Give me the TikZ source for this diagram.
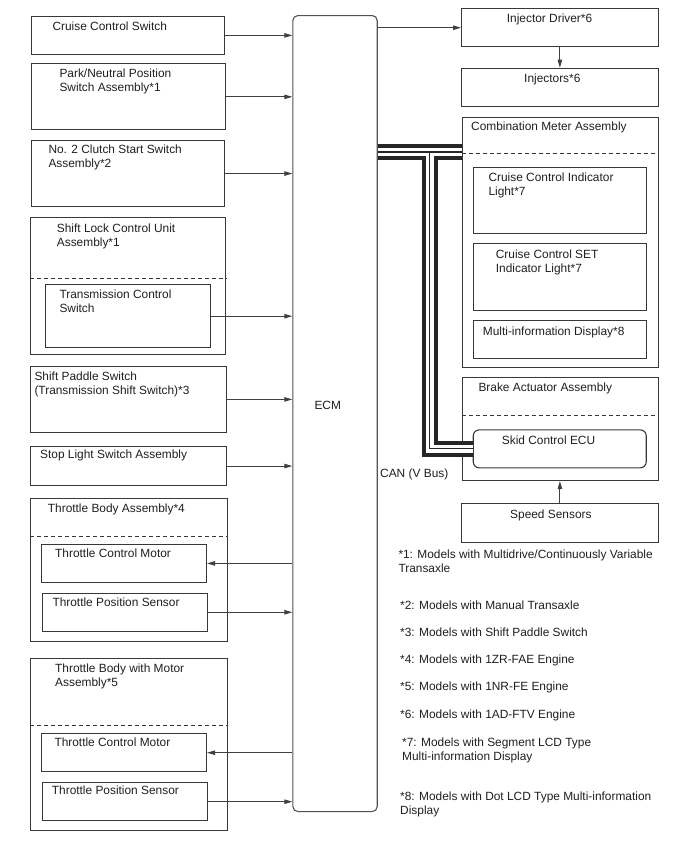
\documentclass[tikz,border=0pt]{standalone}
\usepackage{fontspec}
\setmainfont{Liberation Sans}
\usepackage{xcolor}
\usepackage{tikz}
\usetikzlibrary{positioning,arrows.meta}

\begin{document}
\begin{tikzpicture}[
    x=1pt, y=-1pt,
    box/.style={rectangle, draw=black!78, line width=1.1pt, anchor=north west, inner sep=0pt},
    txt/.style={anchor=north west, inner sep=0pt, align=left, text=black!88, font=\fontsize{11.9pt}{14pt}\selectfont},
    divider/.style={draw=black!78, line width=1pt, dash pattern=on 4pt off 3pt},
    arrow/.style={-{Triangle[length=8pt,width=4.5pt]}, line width=0.9pt, black!75},
]
\useasboundingbox (0,0) rectangle (688,852);

% Left: switches and sensors
\node[box, minimum width=193pt, minimum height=38.3pt] (ccs) at (31,15.7) {};
\node[txt] (ccs-t) at ([shift={(21.3,6)}]ccs.north west) {Cruise Control Switch};

\node[box, minimum width=193.7pt, minimum height=66pt] (pns) at (31.3,63.3) {};
\node[txt] (pns-t) at ([shift={(28,5)}]pns.north west) {Park/Neutral Position\\Switch Assembly*1};

\node[box, minimum width=193pt, minimum height=66pt] (clutch) at (31,140) {};
\node[txt] (clutch-t) at ([shift={(17.3,4.3)}]clutch.north west) {No. 2 Clutch Start Switch\\Assembly*2};

\node[box, minimum width=195.3pt, minimum height=136.7pt] (shiftlock) at (30,217.3) {};
\node[txt] (shiftlock-t) at ([shift={(26.7,6)}]shiftlock.north west) {Shift Lock Control Unit\\Assembly*1};
\node[box, minimum width=165pt, minimum height=63.3pt] (tcs) at (45,284) {};
\node[txt] (tcs-t) at ([shift={(14.3,6)}]tcs.north west) {Transmission Control\\Switch};

\node[box, minimum width=196pt, minimum height=65.7pt] (paddle) at (30,366) {};
\node[txt] (paddle-t) at ([shift={(4.3,5.7)}]paddle.north west) {Shift Paddle Switch\\(Transmission Shift Switch)*3};

\node[box, minimum width=196pt, minimum height=39pt] (stoplight) at (30,446) {};
\node[txt] (stoplight-t) at ([shift={(10,4)}]stoplight.north west) {Stop Light Switch Assembly};

\node[box, minimum width=196.7pt, minimum height=142.4pt] (tba) at (30,498.3) {};
\node[txt] (tba-t) at ([shift={(17.7,5.7)}]tba.north west) {Throttle Body Assembly*4};
\node[box, minimum width=165pt, minimum height=37.7pt] (tcmA) at (41,544) {};
\node[txt] (tcmA-t) at ([shift={(14,4.3)}]tcmA.north west) {Throttle Control Motor};
\node[box, minimum width=164.4pt, minimum height=38pt] (tpsA) at (42.3,592.7) {};
\node[txt] (tpsA-t) at ([shift={(10,4.7)}]tpsA.north west) {Throttle Position Sensor};

\node[box, minimum width=196.7pt, minimum height=172.3pt] (tbm) at (30,657.7) {};
\node[txt] (tbm-t) at ([shift={(25,6.3)}]tbm.north west) {Throttle Body with Motor\\Assembly*5};
\node[box, minimum width=165pt, minimum height=37.7pt] (tcmB) at (41,733.3) {};
\node[txt] (tcmB-t) at ([shift={(13.3,4.4)}]tcmB.north west) {Throttle Control Motor};
\node[box, minimum width=164.4pt, minimum height=37.7pt] (tpsB) at (42.3,782.3) {};
\node[txt] (tpsB-t) at ([shift={(9.4,3.7)}]tpsB.north west) {Throttle Position Sensor};

% Dividers
\draw[divider] ([yshift=-61pt]shiftlock.north west) -- ([yshift=-61pt]shiftlock.north east);
\draw[divider] ([yshift=-37.7pt]tba.north west) -- ([yshift=-37.7pt]tba.north east);
\draw[divider] ([yshift=-67.6pt]tbm.north west) -- ([yshift=-67.6pt]tbm.north east);

% Middle: ECM
\node[box, draw=black!68, rounded corners=5pt, minimum width=84.4pt, minimum height=796pt] (ecm) at (292.3,15) {};
\node[txt] (ecm-t) at (314.3,400.7) {ECM};

% Right: outputs and CAN nodes
\node[box, minimum width=196.7pt, minimum height=37.7pt] (injdrv) at (461,8.3) {};
\node[txt] (injdrv-t) at ([shift={(45.7,5.7)}]injdrv.north west) {Injector Driver*6};
\node[box, minimum width=196.7pt, minimum height=38.3pt] (inj) at (461,67.7) {};
\node[txt] (inj-t) at ([shift={(63,5.7)}]inj.north west) {Injectors*6};

\node[box, minimum width=196pt, minimum height=250pt] (meter) at (461.7,116.7) {};
\node[txt] (meter-t) at ([shift={(9.3,5)}]meter.north west) {Combination Meter Assembly};
\node[box, minimum width=172.4pt, minimum height=66.6pt] (ccil) at (473.3,166.7) {};
\node[txt] (ccil-t) at ([shift={(15,6)}]ccil.north west) {Cruise Control Indicator\\Light*7};
\node[box, minimum width=172.4pt, minimum height=66.7pt] (ccset) at (473.3,243.3) {};
\node[txt] (ccset-t) at ([shift={(22.4,6.7)}]ccset.north west) {Cruise Control SET\\Indicator Light*7};
\node[box, minimum width=172.4pt, minimum height=38.3pt] (mid) at (473.3,320) {};
\node[txt] (mid-t) at ([shift={(9.4,6.7)}]mid.north west) {Multi-information Display*8};

\node[box, minimum width=196pt, minimum height=103.3pt] (brake) at (461.7,376.7) {};
\node[txt] (brake-t) at ([shift={(16.6,6)}]brake.north west) {Brake Actuator Assembly};
\node[box, rounded corners=6pt, minimum width=173pt, minimum height=38pt] (skid) at (472.7,429.3) {};
\node[txt] (skid-t) at ([shift={(29,6.7)}]skid.north west) {Skid Control ECU};

\node[box, minimum width=196.7pt, minimum height=39.6pt] (speed) at (461,502.7) {};
\node[txt] (speed-t) at ([shift={(49,7.3)}]speed.north west) {Speed Sensors};

\draw[divider] ([yshift=-36.6pt]meter.north west) -- ([yshift=-36.6pt]meter.north east);
\draw[divider] ([yshift=-38.3pt]brake.north west) -- ([yshift=-38.3pt]brake.north east);

% Arrows
\draw[arrow] (ccs) -- (ccs -| ecm.west);
\draw[arrow] (pns) -- (pns -| ecm.west);
\draw[arrow] (clutch) -- (clutch -| ecm.west);
\draw[arrow] (tcs) -- (tcs -| ecm.west);
\draw[arrow] (paddle) -- (paddle -| ecm.west);
\draw[arrow] (stoplight) -- (stoplight -| ecm.west);
\draw[arrow] (tcmA -| ecm.west) -- (tcmA);
\draw[arrow] (tpsA) -- (tpsA -| ecm.west);
\draw[arrow] (tcmB -| ecm.west) -- (tcmB);
\draw[arrow] (tpsB) -- (tpsB -| ecm.west);
\draw[arrow] (injdrv -| ecm.east) -- (injdrv);
\draw[arrow] (injdrv) -- (inj);
\draw[arrow] (speed.north) -- (speed.north |- brake.south);

% CAN bus
\coordinate (canT) at (429.5,152);
\foreach \w/\c in {16pt/black!85, 8pt/white, 1.2pt/black!85}
  \draw[line width=\w, draw=\c, line join=miter] (ecm.east |- canT) -- (meter.west |- canT) (canT) |- (skid.west);
\node[txt] (can-t) at (380,468.5) {CAN (V Bus)};

% Notes
\node[txt] (n1) at (398.3,550) {*1: Models with Multidrive/Continuously Variable\\Transaxle};
\node[txt] (n2) at (400,600.5) {*2: Models with Manual Transaxle};
\node[txt] (n3) at (400,627.5) {*3: Models with Shift Paddle Switch};
\node[txt] (n4) at (400,654.5) {*4: Models with 1ZR-FAE Engine};
\node[txt] (n5) at (400,681.5) {*5: Models with 1NR-FE Engine};
\node[txt] (n6) at (400,709.5) {*6: Models with 1AD-FTV Engine};
\node[txt] (n7) at (402,737.5) {*7: Models with Segment LCD Type\\Multi-information Display};
\node[txt] (n8) at (400,791.5) {*8: Models with Dot LCD Type Multi-information\\Display};

\end{tikzpicture}
\end{document}
